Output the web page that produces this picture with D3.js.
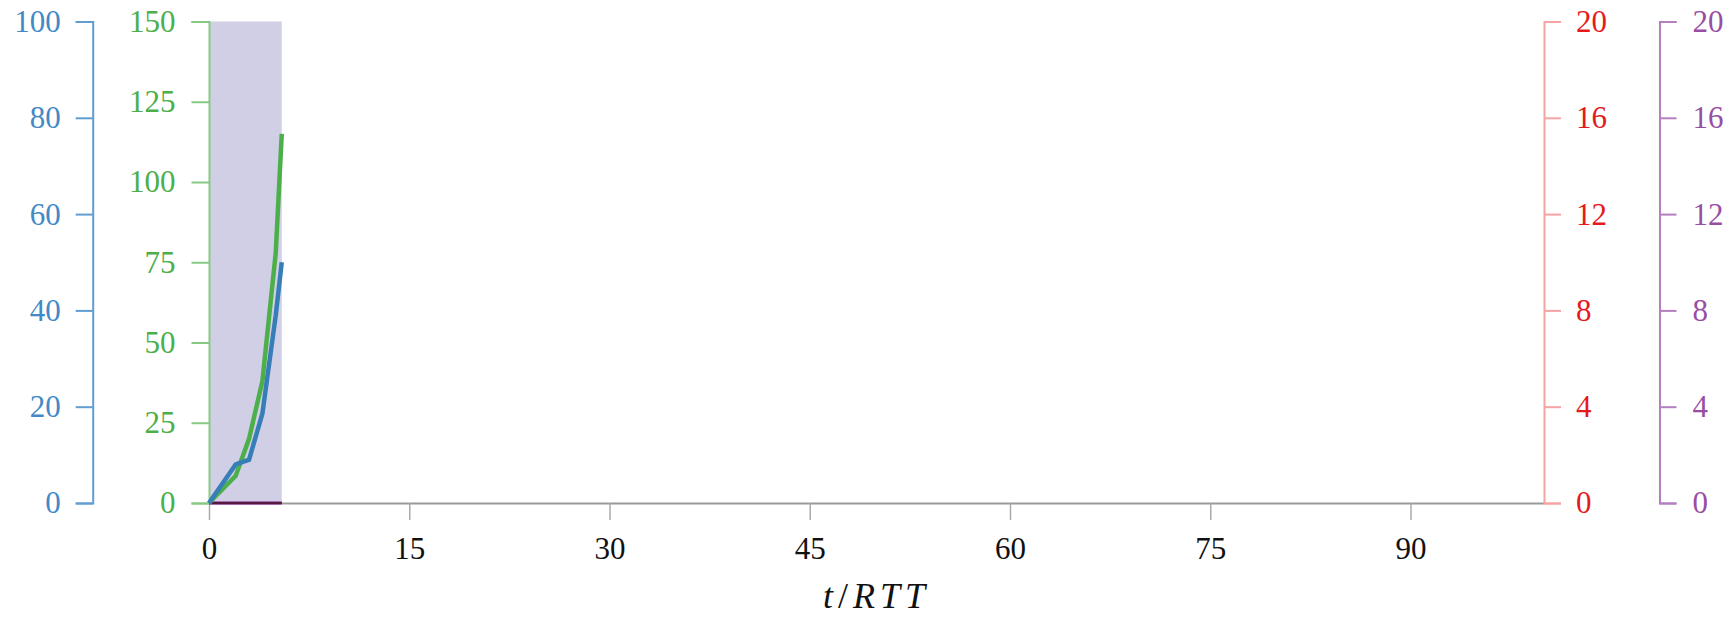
<!DOCTYPE html>
<html>
<head>
<meta charset="utf-8">
<script src="https://cdn.jsdelivr.net/npm/d3@7"></script>
<style>
  html, body { margin: 0; padding: 0; background: #fff; }
  svg { display: block; }
  text { font-family: "Liberation Serif", "DejaVu Serif", serif; }
</style>
</head>
<body>
<svg id="chart" width="1730" height="617"></svg>
<script>
// ---- data ----
const tValues     = [0, 2, 3, 4, 5, 5.45];
const greenSeries = [0, 8.5, 20, 38, 78, 115];
const blueSeries  = [0, 8, 9, 18.6, 39, 50];
const redSeries   = [0, 0, 0, 0, 0, 0];
const purpleSeries= [0, 0, 0, 0, 0, 0];
const shadeRange  = [0, 5.45];

const xTicks      = [0, 15, 30, 45, 60, 75, 90];
const blueTicks   = [0, 20, 40, 60, 80, 100];
const greenTicks  = [0, 25, 50, 75, 100, 125, 150];
const redTicks    = [0, 4, 8, 12, 16, 20];
const purpleTicks = [0, 4, 8, 12, 16, 20];

// ---- layout ----
const svg = d3.select("#chart");
const x0 = 209, x1 = 1544, yTop = 21.5, yBot = 503;
const FS = 31;

const x = d3.scaleLinear().domain([0, 100]).range([x0, x1]);
const yGreen = d3.scaleLinear().domain([0, 150]).range([yBot, yTop]);
const yBlue = d3.scaleLinear().domain([0, 100]).range([yBot, yTop]);
const yRed = d3.scaleLinear().domain([0, 20]).range([yBot, yTop]);
const yPurple = d3.scaleLinear().domain([0, 20]).range([yBot, yTop]);

const C = {
  blue: "#377eb8", green: "#4daf4a", red: "#e41a1c", purple: "#984ea3"
};

// shaded region
svg.append("rect")
  .attr("x", x(shadeRange[0]))
  .attr("y", yGreen(150))
  .attr("width", x(shadeRange[1]) - x(shadeRange[0]))
  .attr("height", yGreen(0) - yGreen(150))
  .attr("fill", "#d0cfe6");

function styleAxis(g, color, lineColor, lineWidth) {
  g.selectAll("path.domain").attr("stroke", lineColor).attr("stroke-width", lineWidth);
  g.selectAll(".tick line").attr("stroke", lineColor).attr("stroke-width", lineWidth);
  g.selectAll(".tick text").attr("fill", color).attr("font-size", FS)
    .attr("font-family", '"Liberation Serif", "DejaVu Serif", serif');
}

// x axis
const gx = svg.append("g").attr("transform", `translate(0,${yBot})`)
  .call(d3.axisBottom(x).tickValues(xTicks).tickSize(17).tickSizeOuter(0).tickPadding(17));
gx.selectAll("path.domain").attr("stroke", "#999").attr("stroke-width", 2);
gx.selectAll(".tick line").attr("stroke", "#aaa").attr("stroke-width", 1.5);
gx.selectAll(".tick text").attr("fill", "#111").attr("font-size", FS)
  .attr("font-family", '"Liberation Serif", "DejaVu Serif", serif');

// blue axis
const gb = svg.append("g").attr("transform", "translate(92.7,0)")
  .call(d3.axisLeft(yBlue).tickValues(blueTicks).tickSize(17).tickPadding(15));
styleAxis(gb, "#4389c5", "#5f9dd2", 2);

// green axis
const gg = svg.append("g").attr("transform", `translate(${x0},0)`)
  .call(d3.axisLeft(yGreen).tickValues(greenTicks).tickSize(17.5).tickPadding(16).tickSizeOuter(17.5));
styleAxis(gg, C.green, "#85c983", 2);

// red axis
const gr = svg.append("g").attr("transform", `translate(${x1},0)`)
  .call(d3.axisRight(yRed).tickValues(redTicks).tickSize(17).tickPadding(15));
styleAxis(gr, C.red, "#f6a3a4", 2);

// purple axis
const gp = svg.append("g").attr("transform", "translate(1659.5,0)")
  .call(d3.axisRight(yPurple).tickValues(purpleTicks).tickSize(17).tickPadding(16));
styleAxis(gp, C.purple, "#b37fbd", 2);

// lines
function drawLine(vals, yScale, color, width, opacity) {
  const data = tValues.map((t, i) => [t, vals[i]]);
  svg.append("path")
    .datum(data)
    .attr("fill", "none")
    .attr("stroke", color)
    .attr("stroke-width", width)
    .attr("stroke-opacity", opacity)
    .attr("stroke-linejoin", "miter")
    .attr("d", d3.line().x(d => x(d[0])).y(d => yScale(d[1])));
}
drawLine(purpleSeries, yPurple, C.purple, 3.5, 1);
drawLine(redSeries, yRed, "#4a0f2e", 2, 0.85);
drawLine(greenSeries, yGreen, C.green, 4.5, 1);
drawLine(blueSeries, yBlue, C.blue, 4.5, 1);

// x label
const lab = svg.append("text")
  .attr("x", (x0 + x1) / 2)
  .attr("y", 608)
  .attr("text-anchor", "middle")
  .attr("font-size", 36)
  .attr("letter-spacing", 5)
  .attr("fill", "#111");
lab.append("tspan").attr("font-style", "italic").text("t");
lab.append("tspan").text("/");
lab.append("tspan").attr("font-style", "italic").text("RTT");
</script>
</body>
</html>
